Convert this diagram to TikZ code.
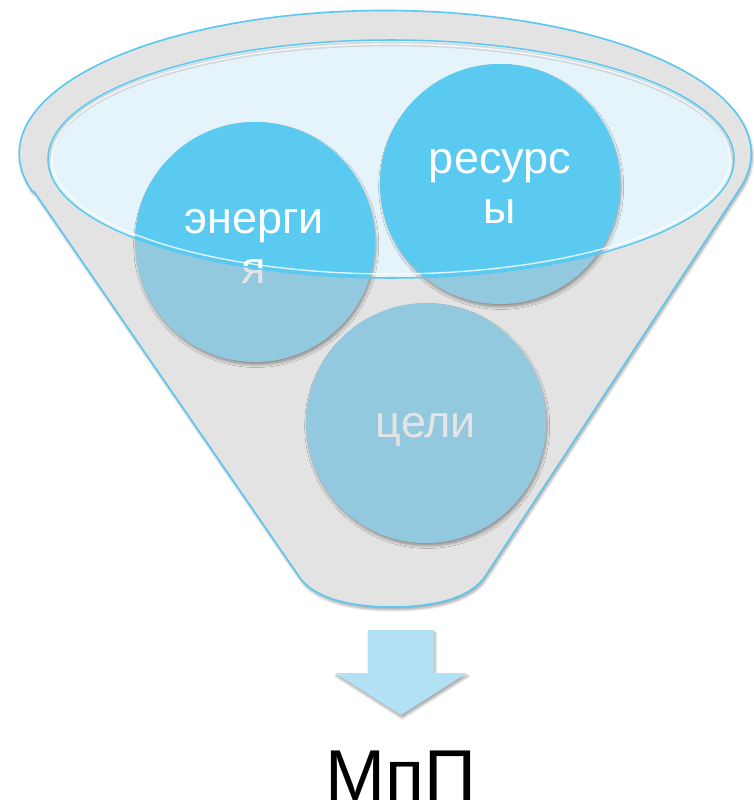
\documentclass[tikz,border=0pt]{standalone}
\usepackage{fontspec}
\setmainfont{Liberation Sans}
\usetikzlibrary{shadows.blur}
\definecolor{rimblue}{HTML}{5BC8EF}
\definecolor{funnelgray}{HTML}{E3E3E3}
\definecolor{mouthfill}{HTML}{E5F4FB}
\definecolor{ballbright}{HTML}{5BCAF1}
\definecolor{ballmuted}{HTML}{93C9DE}
\definecolor{arrowblue}{HTML}{B2E1F6}
\definecolor{dimtext}{HTML}{E4E4E4}
\tikzset{
  ball/.style={circle, minimum size=72mm, inner sep=0pt},
  balltext/.style={font=\fontsize{38.4}{42.7}\selectfont, anchor=base, inner sep=0pt},
  rim/.style={draw=rimblue, line width=1.4pt},
  softshadow/.style={blur shadow={shadow blur steps=6, shadow xshift=1pt, shadow yshift=-2.5pt, shadow opacity=35}}
}
\begin{document}
\begin{tikzpicture}[x=0.3mm, y=-0.3mm]
\useasboundingbox (0,0) rectangle (754,804);

% funnel body: upper rim of the outer ellipse, two sides and a rounded bottom
\path[fill=funnelgray, softshadow]
  (34,191.5) -- (298,575)
  .. controls (312,598) and (350,607) .. (392,607)
  .. controls (434,607) and (472,598) .. (486,575)
  -- (738,191.5)
  arc[start angle=15.4, end angle=-195.4, x radius=366, y radius=143] -- cycle;
\draw[rim]
  (34,191.5) -- (298,575)
  .. controls (312,598) and (350,607) .. (392,607)
  .. controls (434,607) and (472,598) .. (486,575)
  -- (738,191.5)
  arc[start angle=15.4, end angle=-195.4, x radius=366, y radius=143] -- cycle;

% opening of the funnel
\fill[mouthfill] (391,159) ellipse [x radius=343, y radius=119];
\begin{scope}
  \clip (391,159) ellipse [x radius=343, y radius=119];
  \draw[gray!45, line width=4pt, opacity=0.6] (391,163) ellipse [x radius=343, y radius=119];
\end{scope}

% balls seen through the funnel wall
\node[ball, fill=ballmuted, softshadow] (energy) at (255,242) {};
\node[ball, fill=ballmuted, softshadow] (resources) at (500,184) {};
\node[ball, fill=ballmuted, softshadow] (goals) at (426,423) {};
\node[balltext, text=dimtext] (energyA) at (254,233) {энерги};
\node[balltext, text=dimtext] (energyB) at (254,283) {я};
\node[balltext, text=dimtext] (resA) at (500,174) {ресурс};
\node[balltext, text=dimtext] (resB) at (500,223) {ы};
\node[balltext, text=dimtext] (goalsT) at (426,437) {цели};

% parts of the balls inside the opening
\begin{scope}
  \clip (391,159) ellipse [x radius=343, y radius=119];
  \fill[ballbright] (255,242) circle [radius=120];
  \fill[ballbright] (500,184) circle [radius=120];
  \node[balltext, text=white] at (254,233) {энерги};
  \node[balltext, text=white] at (254,283) {я};
  \node[balltext, text=white] at (500,174) {ресурс};
  \node[balltext, text=white] at (500,223) {ы};
\end{scope}
\draw[white, line width=1.2pt, opacity=0.8] (391,159) ellipse [x radius=339, y radius=115];
\draw[rimblue, line width=1.3pt] (391,159) ellipse [x radius=343, y radius=119];

% output arrow
\fill[arrowblue, softshadow] (368,630) -- (434,630) -- (434,673) -- (467,673)
  -- (401,715) -- (335,673) -- (368,673) -- cycle;

\node[font=\fontsize{61.5}{70}\selectfont, anchor=base, inner sep=0pt] (result) at (401,800) {МпП};
\end{tikzpicture}
\end{document}
